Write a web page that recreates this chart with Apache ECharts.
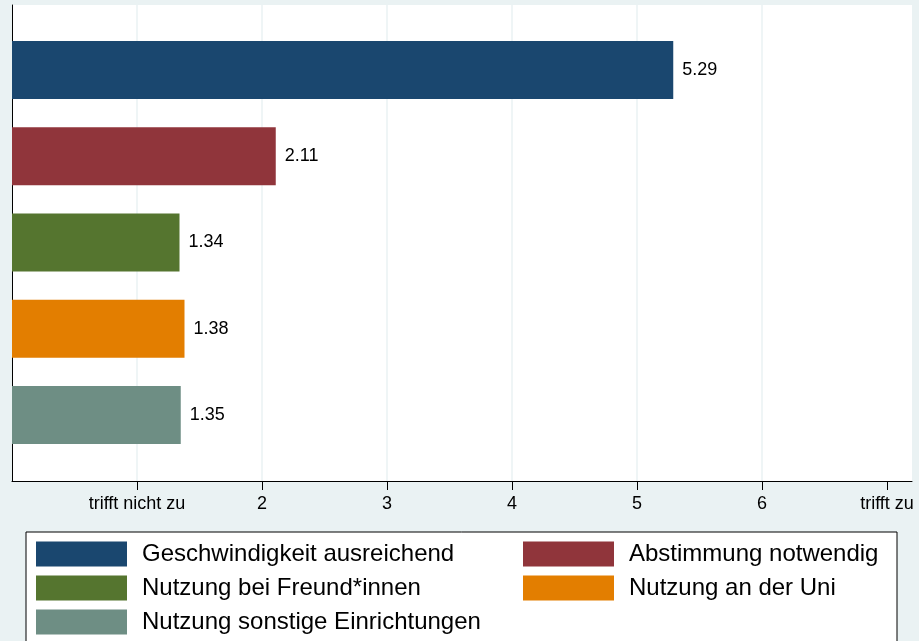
<!DOCTYPE html>
<html>
<head>
<meta charset="utf-8">
<script src="https://cdn.jsdelivr.net/npm/echarts@6/dist/echarts.min.js"></script>
<style>
  html, body { margin: 0; padding: 0; background: #eaf2f3; }
  #chart { width: 919px; height: 641px; }
</style>
</head>
<body>
<div id="chart"></div>
<script>
// data
const categories = [
  'Geschwindigkeit ausreichend',
  'Abstimmung notwendig',
  'Nutzung bei Freund*innen',
  'Nutzung an der Uni',
  'Nutzung sonstige Einrichtungen'
];
const values = [5.29, 2.11, 1.34, 1.38, 1.35];
const colors = ['#1a476f', '#90353b', '#55752f', '#e37e00', '#6e8e84'];
const tickValues = [1, 2, 3, 4, 5, 6, 7];
const tickLabels = ['trifft nicht zu', '2', '3', '4', '5', '6', 'trifft zu'];

const font = 'Liberation Sans, Arial, sans-serif';

let chart = echarts.init(document.getElementById('chart'));

let series = [];
for (let i = 0; i < categories.length; i++) {
  let d = [];
  for (let j = 0; j < categories.length; j++) {
    d.push(j === i ? values[i] : '-');
  }
  series.push({
    name: categories[i],
    type: 'bar',
    xAxisIndex: 1,
    yAxisIndex: 1,
    data: d,
    barWidth: 58,
    barGap: '-100%',
    itemStyle: { color: colors[i] },
    label: {
      show: true,
      position: 'right',
      distance: 9,
      color: '#000',
      fontSize: 18,
      fontFamily: font,
      formatter: p => p.value.toFixed(2)
    }
  });
}

// legend text sits a bit higher than the swatch, like the original
const legendText = {
  color: '#000',
  fontSize: 24,
  fontFamily: font,
  lineHeight: 26,
  padding: [0, 0, 22, 10]
};

function legendCol(left, names) {
  return {
    orient: 'vertical', left: left, top: 530, height: 200,
    padding: 0,
    itemWidth: 91, itemHeight: 25, itemGap: -14,
    icon: 'rect', selectedMode: false,
    data: names,
    textStyle: legendText
  };
}

chart.setOption({
  backgroundColor: '#eaf2f3',
  animation: false,
  grid: [
    // plot frame with the x axis
    { left: 12, top: 5, width: 900, height: 476, show: true, backgroundColor: '#fff', borderWidth: 0 },
    // bars
    { left: 12, top: 27, width: 900, height: 431 },
    // gridlines only at 1..6 (0..6 -> 750px)
    { left: 12, top: 5, width: 750, height: 476 }
  ],
  xAxis: [
    {
      type: 'value', gridIndex: 0, min: 0, max: 7.2,
      axisLine: { onZero: false, lineStyle: { color: '#000', width: 1 } },
      axisTick: { show: true, length: 9, customValues: tickValues, lineStyle: { color: '#000' } },
      axisLabel: {
        customValues: tickValues,
        margin: 14,
        color: '#000',
        fontSize: 18,
        fontFamily: font,
        formatter: v => tickLabels[tickValues.indexOf(Math.round(v))] || ''
      },
      splitLine: { show: false }
    },
    { type: 'value', gridIndex: 1, min: 0, max: 7.2, show: false },
    {
      type: 'value', gridIndex: 2, min: 0, max: 6, interval: 1,
      axisLine: { show: false }, axisTick: { show: false }, axisLabel: { show: false },
      splitLine: { show: true, showMinLine: false, lineStyle: { color: '#eaf2f3', width: 1.5 } }
    }
  ],
  yAxis: [
    {
      type: 'value', gridIndex: 0, min: 0, max: 1,
      axisLine: { show: true, onZero: false, lineStyle: { color: '#000', width: 1 } },
      axisTick: { show: false }, axisLabel: { show: false }, splitLine: { show: false }
    },
    { type: 'category', gridIndex: 1, data: categories, inverse: true, show: false },
    { type: 'value', gridIndex: 2, min: 0, max: 1, show: false }
  ],
  graphic: [{
    type: 'rect', z: 0,
    shape: { x: 26, y: 532, width: 871, height: 130 },
    style: { fill: '#fff', stroke: '#000', lineWidth: 1 }
  }],
  legend: [
    legendCol(36, [categories[0], categories[2], categories[4]]),
    legendCol(523, [categories[1], categories[3]])
  ],
  series: series
});
</script>
</body>
</html>
